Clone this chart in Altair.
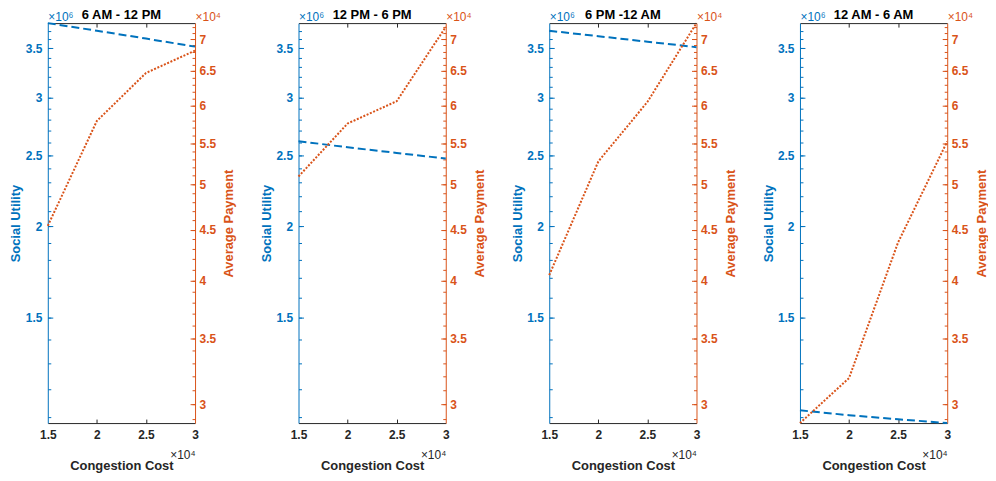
import altair as alt
import pandas as pd

# ---------------- data ----------------
periods = ["6 AM - 12 PM", "12 PM - 6 PM", "6 PM -12 AM", "12 AM - 6 AM"]
congestion_cost = [15000, 20000, 25000, 30000]

social_6am_12pm = [3.79e6, 3.70e6, 3.61e6, 3.52e6]
social_12pm_6pm = [2.615e6, 2.565e6, 2.52e6, 2.476e6]
social_6pm_12am = [3.70e6, 3.637e6, 3.575e6, 3.514e6]
social_12am_6am = [1.122e6, 1.105e6, 1.091e6, 1.078e6]

payment_6am_12pm = [4.54e4, 5.79e4, 6.47e4, 6.815e4]
payment_12pm_6pm = [5.09e4, 5.755e4, 6.06e4, 7.20e4]
payment_6pm_12am = [4.05e4, 5.27e4, 6.05e4, 7.263e4]
payment_12am_6am = [2.874e4, 3.19e4, 4.37e4, 5.52e4]

social_by_period = [social_6am_12pm, social_12pm_6pm, social_6pm_12am, social_12am_6am]
payment_by_period = [payment_6am_12pm, payment_12pm_6pm, payment_6pm_12am, payment_12am_6am]

# ---------------- axis ticks ----------------
x_tick_values = [15000, 20000, 25000, 30000]
x_inner_ticks = [20000, 25000]
left_major = [1.5e6, 2.0e6, 2.5e6, 3.0e6, 3.5e6]
left_minor = [v * 1e5 for v in range(11, 38)]
right_major = [3.0e4, 3.5e4, 4.0e4, 4.5e4, 5.0e4, 5.5e4, 6.0e4, 6.5e4, 7.0e4]
right_minor = [v * 1e3 for v in range(29, 73)]

# ---------------- style ----------------
W, H = 148, 402
BLUE = "#0072BD"
ORANGE = "#D95319"
GRAY = "#262626"
FONT = "Liberation Sans"
LABEL_SIZE = 12
TITLE_SIZE = 13

all_social = [v for s in social_by_period for v in s]
all_payment = [v for s in payment_by_period for v in s]

x_scale = alt.Scale(domain=[min(congestion_cost), max(congestion_cost)], nice=False, zero=False)
left_scale = alt.Scale(type="log", domain=[min(all_social), max(all_social)], nice=False, zero=False)
right_scale = alt.Scale(type="log", domain=[min(all_payment), max(all_payment)], nice=False, zero=False)


def panel(period, social, payment):
    df = pd.DataFrame({"cost": congestion_cost, "social": social, "payment": payment})
    base = alt.Chart(df)

    # --- x axes ---
    x_main = alt.X("cost:Q", scale=x_scale, axis=alt.Axis(
        orient="bottom", values=x_tick_values, labelExpr="datum.value / 10000",
        ticks=False, tickSize=0, labelPadding=7, labelFlush=False, labelOverlap=False,
        labelColor=GRAY, domainColor=GRAY, domainWidth=1,
        title="Congestion Cost", titleColor=GRAY, titleX=W / 2, titleY=43,
        titleAlign="center", titleBaseline="middle", titleFontSize=TITLE_SIZE))
    x_bottom_ticks = alt.X("cost:Q", scale=x_scale, axis=alt.Axis(
        orient="top", offset=-H, values=x_inner_ticks, labels=False, domain=False,
        tickSize=4, tickColor=GRAY,
        title="×10⁴", titleColor=GRAY, titleX=W, titleY=36, titleAlign="right",
        titleBaseline="alphabetic", titleAngle=0, titleFontSize=LABEL_SIZE, titleFontWeight="normal"))
    x_top_ticks = alt.X("cost:Q", scale=x_scale, axis=alt.Axis(
        orient="bottom", offset=-H, values=x_inner_ticks, labels=False, domain=True,
        domainColor=GRAY, domainWidth=1, tickSize=4, tickColor=GRAY, title=None))

    # --- left (social utility) ---
    blue_line = base.mark_line(color=BLUE, strokeWidth=2, strokeDash=[8, 4]).encode(
        x=x_main,
        y=alt.Y("social:Q", scale=left_scale, axis=alt.Axis(
            orient="left", values=left_major, labelExpr="datum.value / 1000000",
            ticks=False, tickSize=0, labelPadding=6, labelFlush=False, labelOverlap=False,
            labelColor=BLUE, domainColor=BLUE, domainWidth=1,
            title="Social Utility", titleColor=BLUE, titleX=-32, titleY=H / 2,
            titleAngle=270, titleAlign="center", titleBaseline="middle",
            titleFontSize=TITLE_SIZE)))
    blue_major = base.mark_line(strokeOpacity=0).encode(
        x=x_bottom_ticks,
        y=alt.Y("social:Q", scale=left_scale, axis=alt.Axis(
            orient="right", offset=-W, values=left_major, labels=False, domain=False,
            tickSize=5, tickColor=BLUE,
            title="×10⁶", titleColor=BLUE, titleX=0, titleY=-3, titleAngle=0,
            titleAlign="left", titleBaseline="alphabetic", titleFontSize=LABEL_SIZE,
            titleFontWeight="normal")))
    blue_minor = base.mark_line(strokeOpacity=0).encode(
        x=x_top_ticks,
        y=alt.Y("social:Q", scale=left_scale, axis=alt.Axis(
            orient="right", offset=-W, values=left_minor, labels=False, domain=False,
            tickSize=3, tickColor=BLUE, title=None)))
    left = alt.layer(blue_line, blue_major, blue_minor).resolve_axis(x="independent", y="independent")

    # --- right (average payment) ---
    orange_line = base.mark_line(color=ORANGE, strokeWidth=2, strokeDash=[2, 1.6]).encode(
        x=alt.X("cost:Q", scale=x_scale, axis=None),
        y=alt.Y("payment:Q", scale=right_scale, axis=alt.Axis(
            orient="right", values=right_major, labelExpr="datum.value / 10000",
            ticks=False, tickSize=0, labelPadding=4, labelFlush=False, labelOverlap=False,
            labelColor=ORANGE, domainColor=ORANGE, domainWidth=1,
            title="Average Payment", titleColor=ORANGE, titleX=34, titleY=H / 2,
            titleAngle=270, titleAlign="center", titleBaseline="middle",
            titleFontSize=TITLE_SIZE)))
    orange_major = base.mark_line(strokeOpacity=0).encode(
        x=alt.X("cost:Q", scale=x_scale, axis=None),
        y=alt.Y("payment:Q", scale=right_scale, axis=alt.Axis(
            orient="left", offset=-W, values=right_major, labels=False, domain=False,
            tickSize=5, tickColor=ORANGE,
            title="×10⁴", titleColor=ORANGE, titleX=0, titleY=-3, titleAngle=0,
            titleAlign="left", titleBaseline="alphabetic", titleFontSize=LABEL_SIZE,
            titleFontWeight="normal")))
    orange_minor = base.mark_line(strokeOpacity=0).encode(
        x=alt.X("cost:Q", scale=x_scale, axis=None),
        y=alt.Y("payment:Q", scale=right_scale, axis=alt.Axis(
            orient="left", offset=-W, values=right_minor, labels=False, domain=False,
            tickSize=3, tickColor=ORANGE, title=None)))
    right = alt.layer(orange_line, orange_major, orange_minor).resolve_axis(y="independent")

    return alt.layer(left, right).resolve_scale(y="independent").properties(
        width=W, height=H,
        title=alt.TitleParams(text=period, fontSize=TITLE_SIZE, fontWeight="bold",
                              color="black", offset=1, dy=13, font=FONT, frame="group"))


panels = [panel(p, s, pay) for p, s, pay in zip(periods, social_by_period, payment_by_period)]

chart = alt.hconcat(*panels, spacing=104, bounds="flush").properties(
    padding={"left": 2, "top": 0, "right": 0, "bottom": 0}
).configure(font=FONT).configure_view(strokeWidth=0).configure_axis(
    grid=False, labelFont=FONT, titleFont=FONT, labelFontSize=LABEL_SIZE,
    labelFontWeight="bold", titleFontWeight="bold"
)

chart.save("out.html", embed_options={"renderer": "svg", "actions": False})
